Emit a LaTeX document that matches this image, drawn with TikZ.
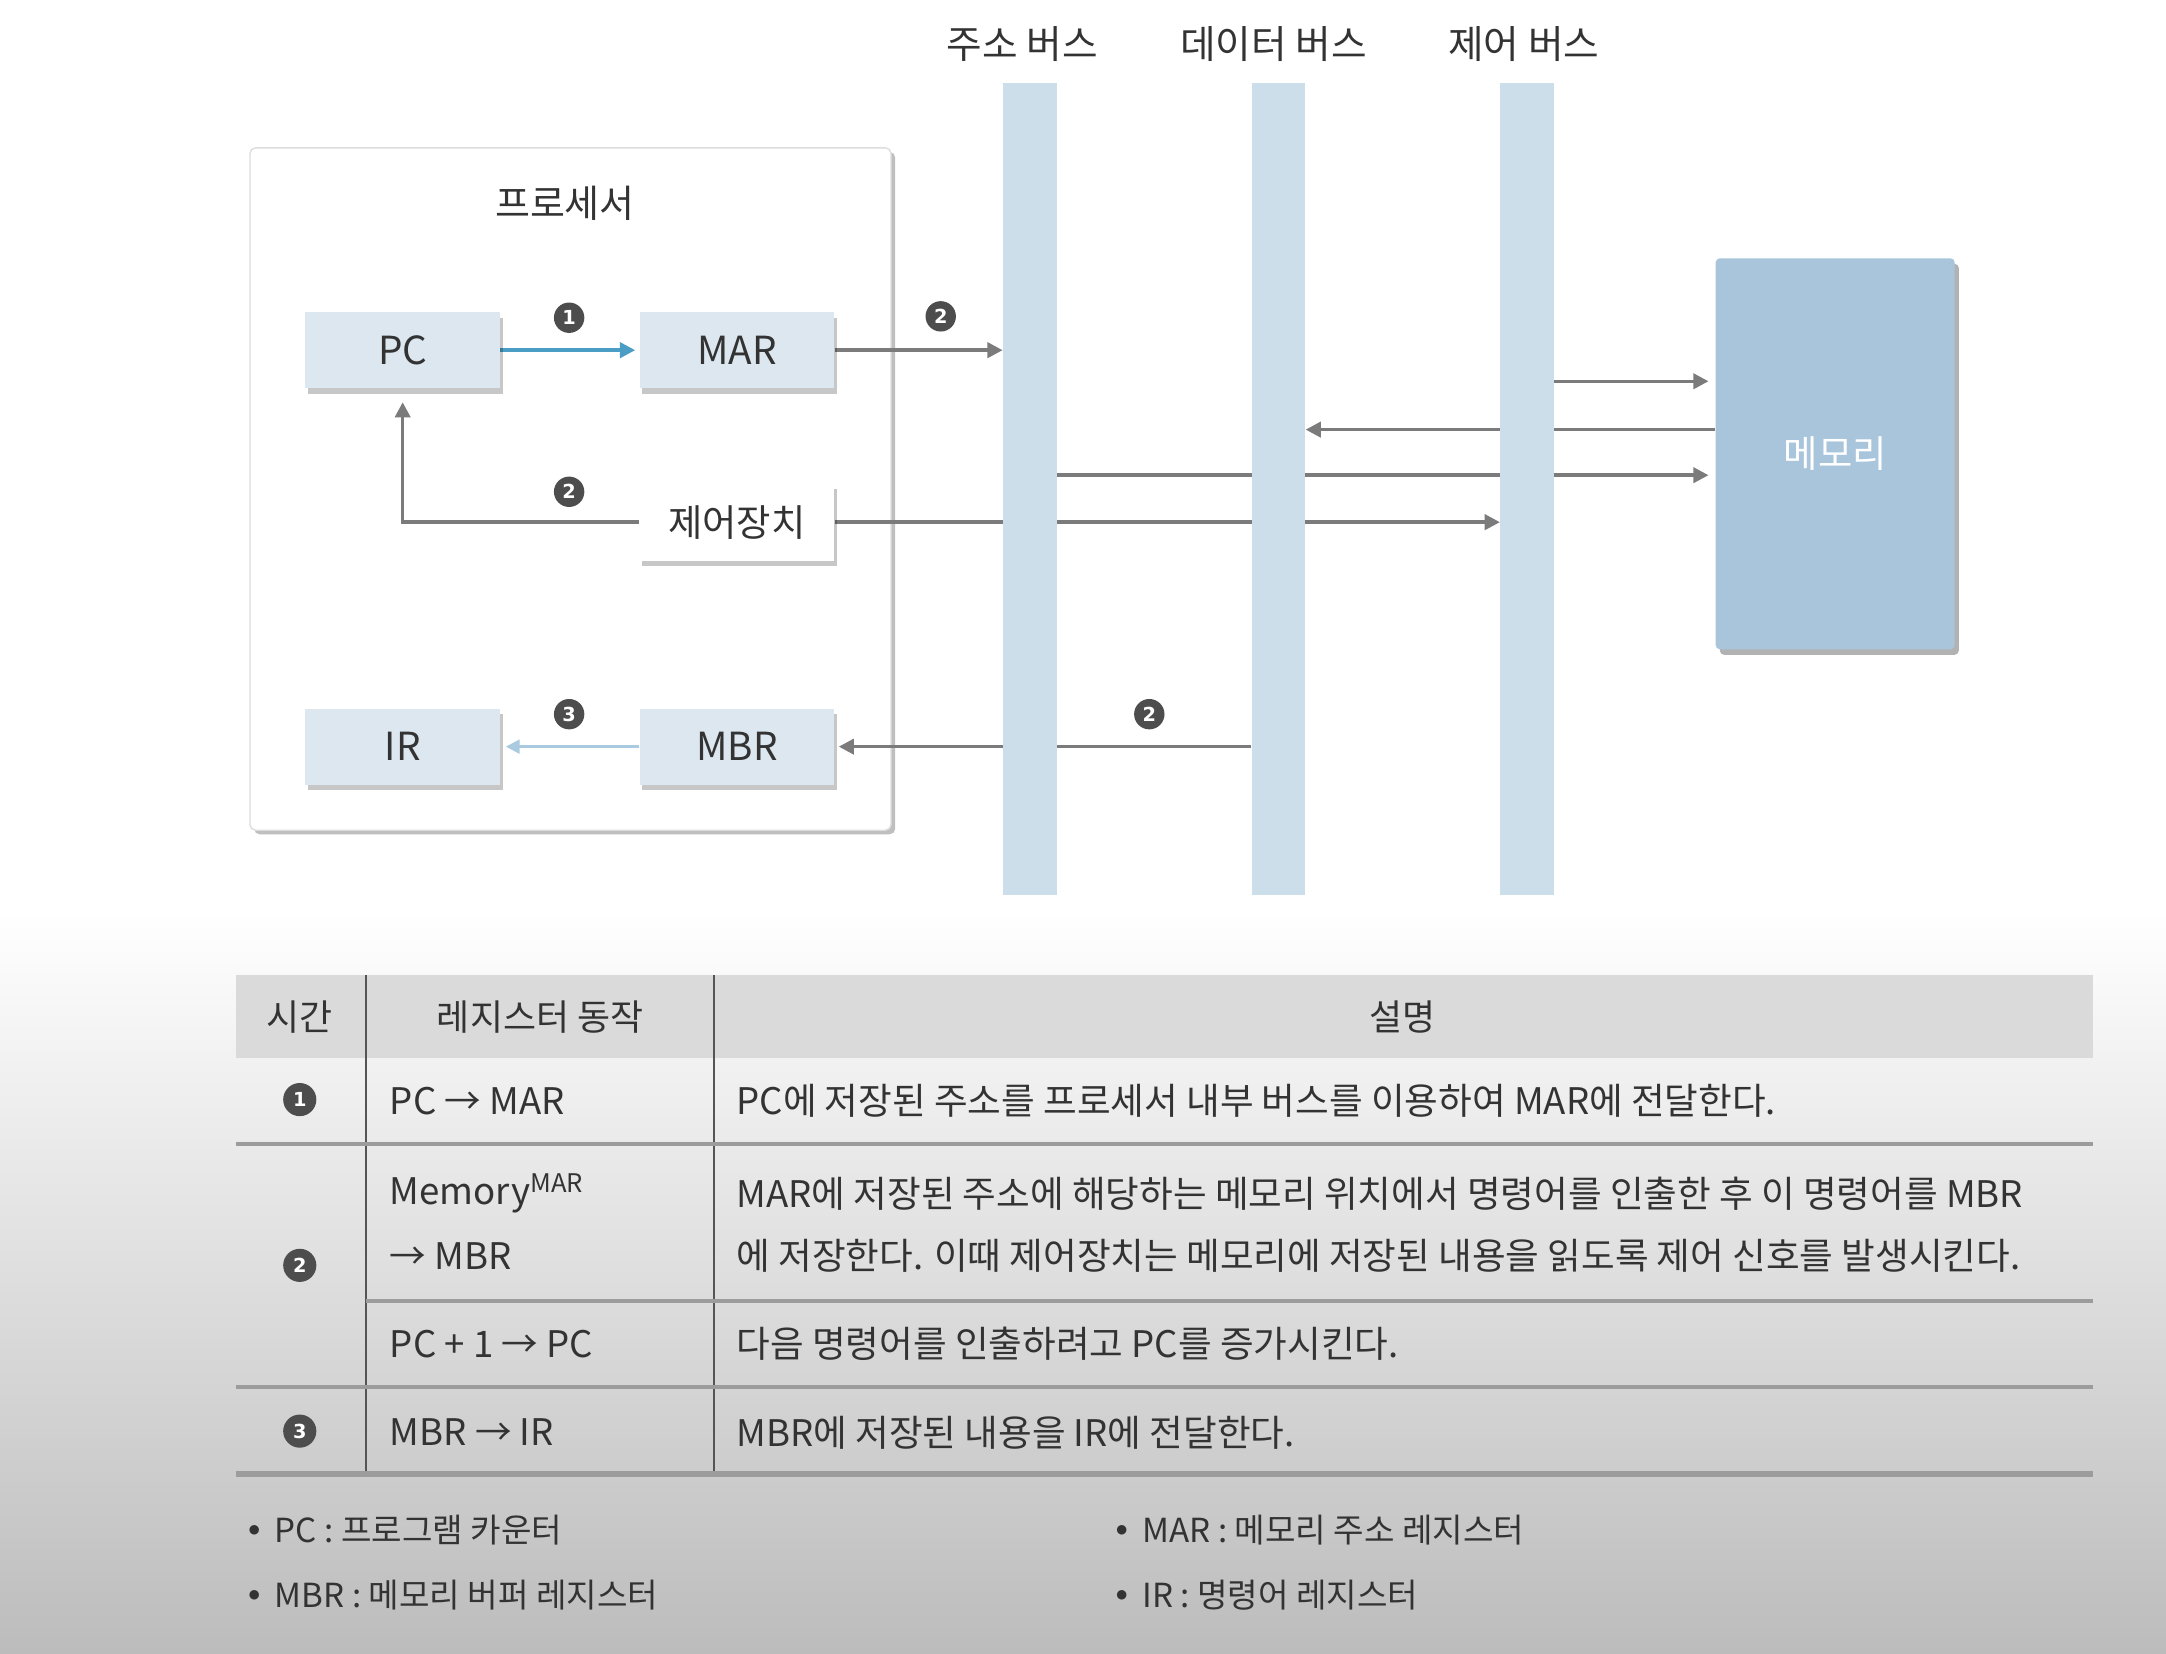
\documentclass[tikz,border=0pt]{standalone}
\usepackage{fontspec}
\setmainfont{Noto Sans CJK KR}
\newfontfamily\numfont{DejaVu Sans}
\usetikzlibrary{arrows.meta,shadows,calc}
\definecolor{regfill}{HTML}{DCE7F0}
\definecolor{busfill}{HTML}{CCDEEA}
\definecolor{memfill}{HTML}{A8C5DB}
\definecolor{arrgray}{HTML}{7B7B7B}
\definecolor{arrblue}{HTML}{4A9DC4}
\definecolor{arrlblue}{HTML}{A9CADF}
\definecolor{txt}{HTML}{333333}
\definecolor{numfill}{HTML}{4D4D4D}
\definecolor{hdrfill}{HTML}{DADADA}
\definecolor{rulec}{HTML}{9C9C9C}
\definecolor{vrule}{HTML}{555555}
\definecolor{bgbottom}{HTML}{BCBCBC}
\definecolor{procline}{HTML}{DDDDDD}
\pgfdeclarelayer{bg}
\pgfdeclarelayer{lines}
\pgfsetlayers{bg,lines,main}
\newcommand{\nbul}{\raisebox{0.28em}{\fontsize{9}{9}\selectfont\numfont ●}\hspace{11pt}}
\tikzset{
  boxshadow/.style={drop shadow={shadow xshift=2pt, shadow yshift=-4pt, fill=black, opacity=0.22}},
  reg/.style={rectangle, fill=regfill, minimum width=141pt, minimum height=55pt, text=txt,
    font=\fontsize{28}{28}\selectfont, boxshadow},
  ctrlbox/.style={reg, fill=white, minimum height=56pt, font=\fontsize{27}{27}\selectfont},
  procbox/.style={rectangle, rounded corners=4pt, fill=white, draw=procline, line width=1pt,
    minimum width=464pt, minimum height=494pt, drop shadow={shadow xshift=3pt, shadow yshift=-3pt, fill=black, opacity=0.25}},
  busbar/.style={rectangle, fill=busfill, minimum width=39pt, minimum height=588pt, inner sep=0pt},
  membox/.style={rectangle, rounded corners=3pt, fill=memfill, minimum width=173pt, minimum height=283pt,
    text=white, font=\fontsize{27}{27}\selectfont, drop shadow={shadow xshift=3pt, shadow yshift=-4pt, fill=black, opacity=0.3}},
  lbl/.style={text=txt, font=\fontsize{27.5}{27.5}\selectfont, inner sep=0pt},
  buslbl/.style={text=txt, font=\fontsize{28}{28}\selectfont, inner sep=0pt},
  numc/.style={circle, fill=numfill, text=white, inner sep=0pt, minimum size=22pt,
    font=\numfont\bfseries\fontsize{14}{14}\selectfont},
  garrow/.style={draw=arrgray, line width=2.5pt, -{Triangle[length=11pt,width=11pt]}},
  barrow/.style={draw=arrblue, line width=2.5pt, -{Triangle[length=11pt,width=11pt]}},
  lbarrow/.style={draw=arrlblue, line width=2pt, -{Triangle[length=10pt,width=10pt]}},
  ttxt/.style={text=txt, font=\fontsize{26.5}{30}\selectfont, inner sep=0pt, anchor=west},
  thdr/.style={text=txt, font=\fontsize{26}{26}\selectfont, inner sep=0pt},
  note/.style={text=txt, font=\fontsize{24}{24}\selectfont, inner sep=0pt, anchor=west},
  hrule/.style={draw=rulec, line width=3pt},
  vline/.style={draw=vrule, line width=1pt}
}
\begin{document}
\begin{tikzpicture}[x=1pt,y=-1pt]
\useasboundingbox (0,0) rectangle (1568,1197);
\begin{pgfonlayer}{bg}
  \fill[white] (0,0) rectangle (1568,1197);
  \shade[top color=white, bottom color=bgbottom] (0,660) rectangle (1568,1197);
  \node[procbox] (proc) at (413,354) {};
\end{pgfonlayer}

% processor contents
\node[lbl] (ptitle) at (409,147) {프로세서};
\node[reg] (PC) at (291.5,253.5) {PC};
\node[reg] (MAR) at (533.5,253.5) {MAR};
\node[ctrlbox] (ctrl) at (533.5,378) {제어장치};
\node[reg] (IR) at (291.5,540.5) {IR};
\node[reg] (MBR) at (533.5,540.5) {MBR};

% buses
\node[buslbl] (labA) at (740,32) {주소 버스};
\node[buslbl] (labD) at (922,32) {데이터 버스};
\node[buslbl] (labC) at (1103,32) {제어 버스};
\node[busbar] (abus) at (745.5,354) {};
\node[busbar] (dbus) at (925.5,354) {};
\node[busbar] (cbus) at (1105.5,354) {};

% memory
\node[membox] (mem) at (1328.5,328.5) {메모리};

% step numbers
\node[numc] (n1) at (412,230) {1};
\node[numc] (n2a) at (681,229) {2};
\node[numc] (n2b) at (412,356) {2};
\node[numc] (n2c) at (832,517) {2};
\node[numc] (n3) at (412,517) {3};

\begin{pgfonlayer}{lines}
  \draw[barrow, shorten >=3pt] (PC.east) -- (MAR.west);
  \draw[garrow] (MAR.east) -- (MAR.east -| abus.west);
  \draw[garrow, shorten >=10pt] (ctrl.west) -| (PC.south);
  \draw[garrow] (ctrl.east) -- (ctrl.east -| cbus.west);
  \coordinate (m1) at ($(mem.west)+(0,-52.5)$);
  \coordinate (m2) at ($(mem.west)+(0,-17.5)$);
  \coordinate (m3) at ($(mem.west)+(0,15.5)$);
  \draw[garrow, shorten >=5pt] (m1 -| cbus.east) -- (m1);
  \draw[garrow] (m2) -- (m2 -| dbus.east);
  \draw[garrow, shorten >=5pt] (m3 -| abus.east) -- (m3);
  \draw[garrow, shorten >=3pt] (MBR.east -| dbus.west) -- (MBR.east);
  \draw[lbarrow, shorten >=4pt] (MBR.west) -- (IR.east);
\end{pgfonlayer}

% table
\fill[hdrfill] (171,706) rectangle (1515,766);
\node[thdr] (h1) at (217,736) {시간};
\node[thdr] (h2) at (391,736) {레지스터 동작};
\node[thdr] (h3) at (1015,736) {설명};
\draw[vline] (265,706) -- (265,1067);
\draw[vline] (517,706) -- (517,1067);
\draw[hrule] (171,828) -- (1515,828);
\draw[hrule] (265,942) -- (1515,942);
\draw[hrule] (171,1004) -- (1515,1004);
\draw[hrule, line width=4pt] (171,1067) -- (1515,1067);

\node[numc, minimum size=24pt] (t1) at (217,796) {1};
\node[ttxt] (r1a) at (282,797) {PC → MAR};
\node[ttxt] (r1b) at (533,797) {PC에 저장된 주소를 프로세서 내부 버스를 이용하여 MAR에 전달한다.};

\node[numc, minimum size=24pt] (t2) at (217,916) {2};
\node[ttxt] (r2a) at (282,864) {Memory\textsuperscript{MAR}};
\node[ttxt] (r2a2) at (282,909) {→ MBR};
\node[ttxt] (r2b) at (533,864) {MAR에 저장된 주소에 해당하는 메모리 위치에서 명령어를 인출한 후 이 명령어를 MBR};
\node[ttxt] (r2b2) at (533,909) {에 저장한다. 이때 제어장치는 메모리에 저장된 내용을 읽도록 제어 신호를 발생시킨다.};
\node[ttxt] (r2c) at (282,973) {PC + 1 → PC};
\node[ttxt] (r2d) at (533,973) {다음 명령어를 인출하려고 PC를 증가시킨다.};

\node[numc, minimum size=24pt] (t3) at (217,1036) {3};
\node[ttxt] (r3a) at (282,1037) {MBR → IR};
\node[ttxt] (r3b) at (533,1037) {MBR에 저장된 내용을 IR에 전달한다.};

% notes
\node[note] (nt1) at (180,1108) {\nbul PC : 프로그램 카운터};
\node[note] (nt2) at (808,1108) {\nbul MAR : 메모리 주소 레지스터};
\node[note] (nt3) at (180,1155) {\nbul MBR : 메모리 버퍼 레지스터};
\node[note] (nt4) at (808,1155) {\nbul IR : 명령어 레지스터};
\end{tikzpicture}
\end{document}
